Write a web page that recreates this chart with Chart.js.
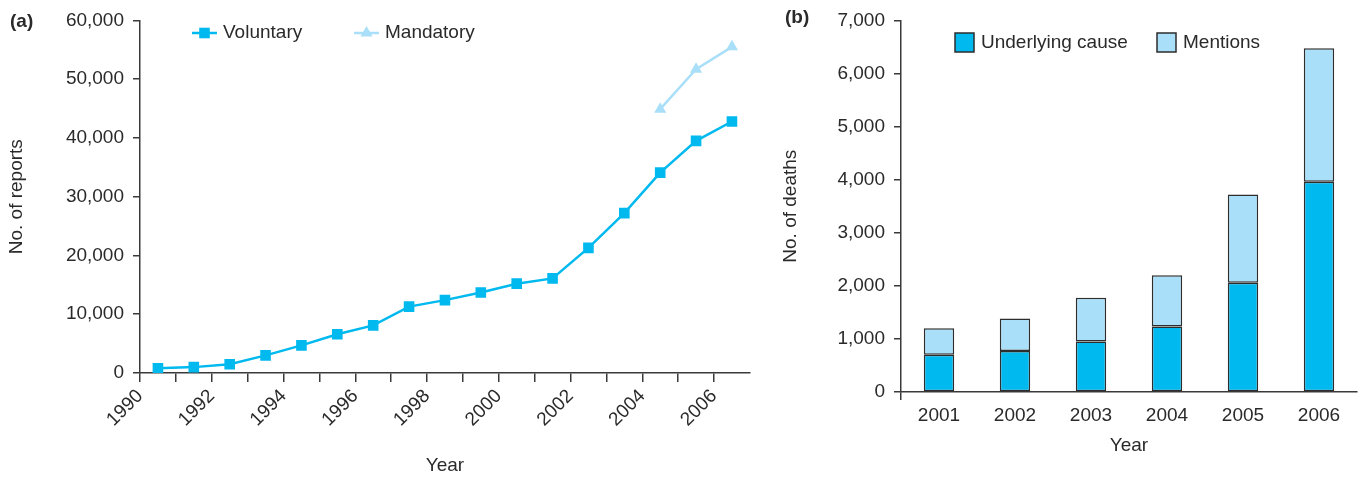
<!DOCTYPE html>
<html>
<head>
<meta charset="utf-8">
<script src="https://cdn.jsdelivr.net/npm/chart.js@4.4.1/dist/chart.umd.min.js"></script>
<style>
  html, body { margin: 0; padding: 0; background: #fff; }
  #wrap { position: relative; width: 1362px; height: 478px; }
  .box { position: absolute; top: 0; height: 478px; }
  #left { left: 0; width: 769px; }
  #right { left: 765px; width: 597px; }
</style>
</head>
<body>
<div id="wrap">
  <div class="box" id="left"><canvas id="reportsChart"></canvas></div>
  <div class="box" id="right"><canvas id="deathsChart"></canvas></div>
</div>
<script>
// (a) reports per year
const reportYears = [1990, 1991, 1992, 1993, 1994, 1995, 1996, 1997, 1998, 1999, 2000, 2001, 2002, 2003, 2004, 2005, 2006];
const voluntaryReports = [800, 1000, 1500, 3000, 4700, 6600, 8100, 11300, 12400, 13700, 15200, 16100, 21300, 27200, 34100, 39500, 42800];
const mandatoryYears = [2004, 2005, 2006];
const mandatoryReports = [44900, 51700, 55500];

// (b) deaths per year
const deathYears = ['2001', '2002', '2003', '2004', '2005', '2006'];
const underlyingCause = [700, 770, 950, 1235, 2060, 3960];
const mentions = [1200, 1385, 1775, 2200, 3720, 6475];

const FONT = '"Liberation Sans", Arial, Helvetica, sans-serif';
const TEXT = '#2a2a2a';
const AXIS = '#3a3a3a';
const BLUE = '#00b9ef';
const LIGHT = '#a9dff8';

Chart.defaults.font.family = FONT;
Chart.defaults.font.size = 19;
Chart.defaults.color = TEXT;

const fmt = v => Number(v).toLocaleString('en-US');

// panel letter + legend drawn on the canvas
function decor(letter, lx, ly, drawLegend) {
  return {
    id: 'decor' + letter,
    afterDraw(chart) {
      const ctx = chart.ctx;
      ctx.save();
      ctx.fillStyle = TEXT;
      ctx.textBaseline = 'middle';
      ctx.font = 'bold 19px ' + FONT;
      ctx.fillText(letter, lx, ly);
      ctx.font = '19px ' + FONT;
      drawLegend(ctx, chart);
      ctx.restore();
    }
  };
}

const reportsCtx = document.getElementById('reportsChart').getContext('2d');
new Chart(reportsCtx, {
  type: 'line',
  data: {
    datasets: [
      {
        label: 'Voluntary',
        data: reportYears.map((y, i) => ({x: y + 0.5, y: voluntaryReports[i]})),
        borderColor: BLUE,
        backgroundColor: BLUE,
        borderWidth: 2.5,
        pointStyle: 'rect',
        pointRadius: 7.5,
        pointBorderWidth: 0,
      },
      {
        label: 'Mandatory',
        data: mandatoryYears.map((y, i) => ({x: y + 0.5, y: mandatoryReports[i]})),
        borderColor: LIGHT,
        backgroundColor: LIGHT,
        borderWidth: 2.5,
        pointStyle: 'triangle',
        pointRadius: 7,
        pointBorderWidth: 0,
      },
    ],
  },
  options: {
    responsive: true,
    maintainAspectRatio: false,
    animation: false,
    layout: {padding: {top: 19, right: 11, left: 0, bottom: 0}},
    scales: {
      x: {
        type: 'linear',
        min: 1990,
        max: 2007,
        afterFit: s => { s.height = 105 },
        border: {color: AXIS, width: 1.5},
        grid: {
          drawOnChartArea: false,
          tickLength: 9,
          lineWidth: 1.5,
          color: c => (c.tick && c.tick.value < 2007) ? AXIS : 'rgba(0,0,0,0)',
        },
        ticks: {
          stepSize: 1,
          autoSkip: false,
          maxRotation: 45,
          minRotation: 45,
          padding: 3,
          callback: v => (v % 2 === 0 && v < 2007) ? String(v) : '',
        },
        title: {display: true, text: 'Year', padding: {top: 4, bottom: 1}},
      },
      y: {
        min: 0,
        max: 60000,
        afterFit: s => { s.width = 140 },
        border: {color: AXIS, width: 1.5},
        grid: {drawOnChartArea: false, tickLength: 7, lineWidth: 1.5, color: AXIS},
        ticks: {stepSize: 10000, padding: 9, callback: fmt},
        title: {display: true, text: 'No. of reports', padding: {top: 5, bottom: 0}},
      },
    },
    plugins: {legend: {display: false}, tooltip: {enabled: false}},
  },
  plugins: [decor('(a)', 10, 22, (ctx, chart) => {
    const spots = [192, 354];
    chart.data.datasets.forEach((ds, i) => {
      const x = spots[i], y = 33;
      ctx.strokeStyle = ds.borderColor;
      ctx.lineWidth = ds.borderWidth;
      ctx.beginPath();
      ctx.moveTo(x, y);
      ctx.lineTo(x + 25, y);
      ctx.stroke();
      ctx.fillStyle = ds.backgroundColor;
      Chart.helpers.drawPoint(ctx, {pointStyle: ds.pointStyle, radius: ds.pointRadius, rotation: 0, borderWidth: 0}, x + 12.5, y);
      ctx.fillStyle = TEXT;
      ctx.fillText(ds.label, x + 31, y);
    });
  })],
});

const deathsCtx = document.getElementById('deathsChart').getContext('2d');
new Chart(deathsCtx, {
  type: 'bar',
  data: {
    labels: deathYears,
    datasets: [
      {
        label: 'Underlying cause',
        data: underlyingCause,
        backgroundColor: BLUE,
      },
      {
        label: 'Mentions',
        data: underlyingCause.map((u, i) => [u, mentions[i]]),
        backgroundColor: LIGHT,
      },
    ],
  },
  options: {
    responsive: true,
    maintainAspectRatio: false,
    animation: false,
    layout: {padding: {top: 16, right: 5, left: 0, bottom: 21}},
    datasets: {
      bar: {
        grouped: false,
        barPercentage: 0.4,
        categoryPercentage: 1,
        borderColor: '#2d2d2d',
        borderWidth: 1.5,
        borderSkipped: false,
      },
    },
    scales: {
      x: {
        afterFit: s => { s.height = 65 },
        border: {color: AXIS, width: 1.5},
        grid: {
          drawOnChartArea: false,
          tickLength: 8,
          lineWidth: 1.5,
          color: c => c.index === 0 ? AXIS : 'rgba(0,0,0,0)',
        },
        ticks: {padding: 4},
        title: {display: true, text: 'Year', padding: {top: 2, bottom: 0}},
      },
      y: {
        min: 0,
        max: 7000,
        afterFit: s => { s.width = 136 },
        border: {color: AXIS, width: 1.5},
        grid: {drawOnChartArea: false, tickLength: 7, lineWidth: 1.5, color: AXIS},
        ticks: {stepSize: 1000, padding: 9, callback: fmt},
        title: {display: true, text: 'No. of deaths', padding: {top: 14, bottom: 0}},
      },
    },
    plugins: {legend: {display: false}, tooltip: {enabled: false}},
  },
  plugins: [decor('(b)', 20, 18, (ctx, chart) => {
    const spots = [190, 392];
    chart.data.datasets.forEach((ds, i) => {
      const x = spots[i];
      ctx.fillStyle = ds.backgroundColor;
      ctx.fillRect(x, 33, 19, 19);
      ctx.strokeStyle = '#2d2d2d';
      ctx.lineWidth = 1.5;
      ctx.strokeRect(x, 33, 19, 19);
      ctx.fillStyle = TEXT;
      ctx.fillText(ds.label, x + 26, 43);
    });
  })],
});
</script>
</body>
</html>
